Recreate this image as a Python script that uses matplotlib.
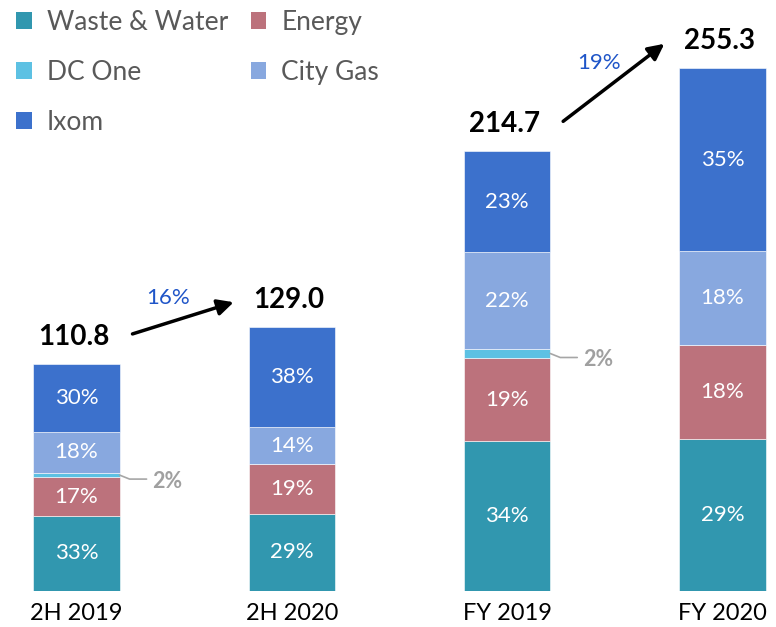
import numpy as np
import matplotlib.pyplot as plt
from matplotlib.patches import Patch

plt.rcParams['font.family'] = ['Lato', 'DejaVu Sans']

categories = ['2H 2019', '2H 2020', 'FY 2019', 'FY 2020']
totals = [110.8, 129.0, 214.7, 255.3]
segments = ['Waste & Water', 'Energy', 'DC One', 'City Gas', 'Ixom']
waste_water = [33, 29, 34, 29]
energy = [17, 19, 19, 18]
dc_one = [2, 0, 2, 0]
city_gas = [18, 14, 22, 18]
ixom = [30, 38, 23, 35]
growth = ['16%', '19%']
growth_pairs = [(0, 1), (2, 3)]

colors = ['#3197AF', '#BC727C', '#5DC1E3', '#88A8DF', '#3C71CC']

W, H = 776, 627
fig = plt.figure(figsize=(W / 100, H / 100), dpi=100)
base_px = 590.7          # baseline, pixels from top
px_x = 215.33            # pixels per category step
px_y = 2.046             # pixels per unit
ax = fig.add_axes([0, (H - base_px) / H, 1, base_px / H])
ax.set_xlim(-76.5 / px_x, (W - 76.5) / px_x)
ax.set_ylim(0, base_px / px_y)

x = np.arange(len(categories))
width = 0.40
shares = [waste_water, energy, dc_one, city_gas, ixom]
bottom = np.zeros(len(categories))
handles = []
for name, share, c in zip(segments, shares, colors):
    vals = np.array(share) / 100 * np.array(totals)
    ax.bar(x, vals, width, bottom=bottom, color=c, edgecolor='white', linewidth=0.4)
    handles.append(Patch(facecolor=c, label=name))
    for i, (v, b, p) in enumerate(zip(vals, bottom, share)):
        if p == 0:
            continue
        yc = b + v / 2
        if p < 5:
            # small slice: grey label with leader line
            x0 = x[i] + width / 2
            ax.plot([x0, x0 + 10 / px_x, x0 + 27 / px_x],
                    [yc, yc - 4 / px_y, yc - 4 / px_y],
                    color='#A6A6A6', lw=1.2, solid_capstyle='round')
            ax.text(x0 + 33 / px_x, yc - 6 / px_y, f'{p}%', ha='left', va='center',
                    color='#A0A0A0', fontsize=15.5, fontweight='bold')
        else:
            ax.text(x[i], yc, f'{p}%', ha='center', va='center',
                    color='white', fontsize=16)
    bottom += vals

# totals above bars
for i, t in enumerate(totals):
    ax.annotate(f'{t:.1f}', (x[i], t), xytext=(-3, 27), textcoords='offset pixels',
                ha='center', va='center', fontsize=20, fontweight='bold', color='black')

# growth arrows
for (a, b), g in zip(growth_pairs, growth):
    tail = (x[a] + 0.26, totals[a] + 14.7)
    head = (x[b] - 0.27, totals[b] + 12)
    ax.annotate('', xy=head, xytext=tail,
                arrowprops=dict(arrowstyle='-|>', lw=2.5, color='black',
                                mutation_scale=24, shrinkA=0, shrinkB=0))
    mid = ((tail[0] + head[0]) / 2, (tail[1] + head[1]) / 2)
    ax.annotate(g, mid, xytext=(-15, 20), textcoords='offset pixels',
                ha='center', va='center', fontsize=16, color='#1F55C8')

ax.set_xticks(x, categories, fontsize=17, color='black')
ax.tick_params(axis='x', length=0, pad=8.5)
ax.set_yticks([])
for s in ax.spines.values():
    s.set_visible(False)

order = [0, 2, 4, 1, 3]
fig.legend([handles[k] for k in order], [segments[k] for k in order],
           loc='upper left', bbox_to_anchor=(16 / W, 1 - 10 / H), ncol=2, frameon=False,
           fontsize=19, handlelength=0.6, handleheight=0.6, handletextpad=0.57,
           labelspacing=0.95, columnspacing=0.85, borderpad=0, borderaxespad=0,
           labelcolor='#595959')

fig.savefig('out.png', dpi=100)
